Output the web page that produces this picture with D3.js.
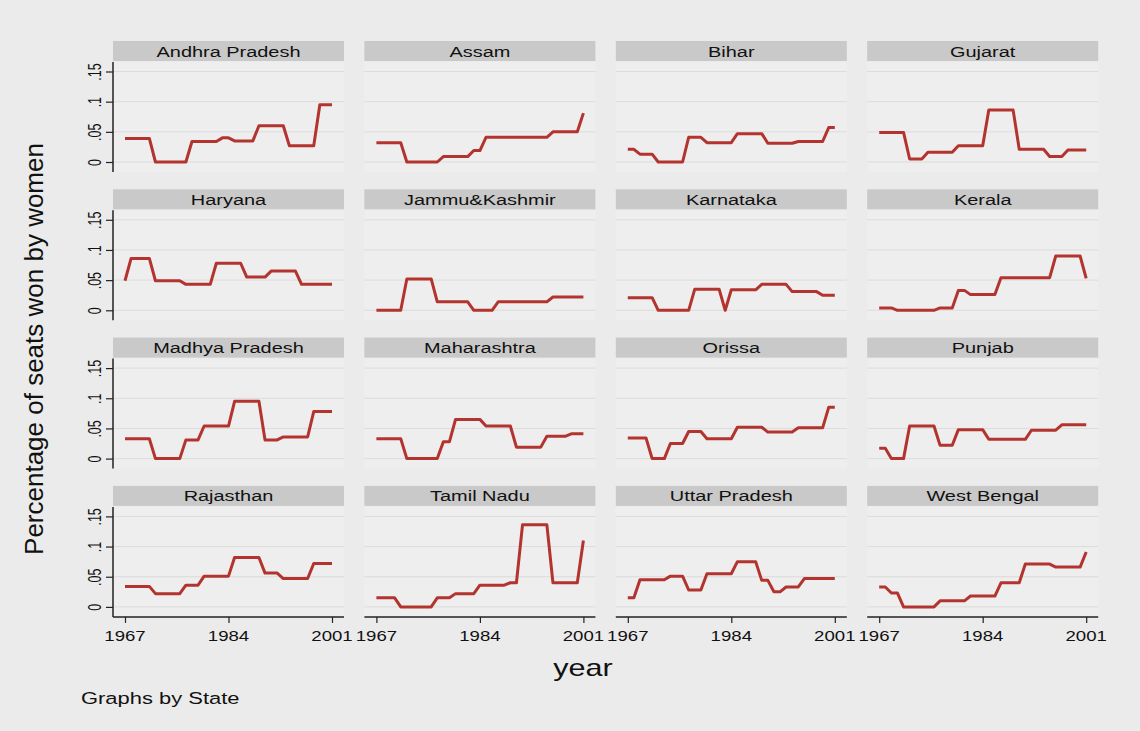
<!DOCTYPE html>
<html>
<head>
<meta charset="utf-8">
<script src="https://cdn.jsdelivr.net/npm/d3@7"></script>
<style>
  body { margin: 0; background: #ebebeb; }
  text { font-family: "Liberation Sans", Arial, sans-serif; fill: #111; }
</style>
</head>
<body>
<svg id="chart" width="1140" height="731"></svg>
<script>
const years = [1967, 1968, 1969, 1970, 1971, 1972, 1973, 1974, 1975, 1976,
               1977, 1978, 1979, 1980, 1981, 1982, 1983, 1984, 1985, 1986,
               1987, 1988, 1989, 1990, 1991, 1992, 1993, 1994, 1995, 1996,
               1997, 1998, 1999, 2000, 2001];

const states = ["Andhra Pradesh", "Assam", "Bihar", "Gujarat",
                "Haryana", "Jammu&Kashmir", "Karnataka", "Kerala",
                "Madhya Pradesh", "Maharashtra", "Orissa", "Punjab",
                "Rajasthan", "Tamil Nadu", "Uttar Pradesh", "West Bengal"];

// share of seats won by women, one value per year 1967-2001
const andhra      = [.039,.039,.039,.039,.039, 0,0,0,0,0,0, .034,.034,.034,.034,.034, .040,.040, .035,.035,.035,.035, .060,.060,.060,.060,.060, .027,.027,.027,.027,.027, .095,.095,.095];
const assam       = [.032,.032,.032,.032,.032, 0,0,0,0,0,0, .009,.009,.009,.009,.009, .019,.019, .041,.041,.041,.041,.041,.041,.041,.041,.041,.041,.041, .050,.050,.050,.050,.050, .081];
const bihar       = [.021,.021, .013,.013,.013, 0,0,0,0,0, .041,.041,.041, .032,.032,.032,.032,.032, .047,.047,.047,.047,.047, .031,.031,.031,.031,.031, .034,.034,.034,.034,.034, .057,.057];
const gujarat     = [.049,.049,.049,.049,.049, .005,.005,.005, .016,.016,.016,.016,.016, .027,.027,.027,.027,.027, .086,.086,.086,.086,.086, .021,.021,.021,.021,.021, .009,.009,.009, .020,.020,.020,.020];
const haryana     = [.049, .086,.086,.086,.086, .049,.049,.049,.049,.049, .043,.043,.043,.043,.043, .078,.078,.078,.078,.078, .055,.055,.055,.055, .065,.065,.065,.065,.065, .043,.043,.043,.043,.043,.043];
const jammu       = [0,0,0,0,0, .052,.052,.052,.052,.052, .014,.014,.014,.014,.014,.014, 0,0,0,0, .014,.014,.014,.014,.014,.014,.014,.014,.014, .022,.022,.022,.022,.022,.022];
const karnataka   = [.021,.021,.021,.021,.021, 0,0,0,0,0,0, .035,.035,.035,.035,.035, 0, .034,.034,.034,.034,.034, .043,.043,.043,.043,.043, .031,.031,.031,.031,.031, .025,.025,.025];
const kerala      = [.004,.004,.004, 0,0,0,0,0,0,0, .004,.004,.004, .033,.033, .026,.026,.026,.026,.026, .054,.054,.054,.054,.054,.054,.054,.054,.054, .090,.090,.090,.090,.090, .053];
const madhya      = [.033,.033,.033,.033,.033, 0,0,0,0,0, .031,.031,.031, .054,.054,.054,.054,.054, .095,.095,.095,.095,.095, .031,.031,.031, .036,.036,.036,.036,.036, .078,.078,.078,.078];
const maharashtra = [.033,.033,.033,.033,.033, 0,0,0,0,0,0, .028,.028, .065,.065,.065,.065,.065, .054,.054,.054,.054,.054, .019,.019,.019,.019,.019, .037,.037,.037,.037, .041,.041,.041];
const orissa      = [.034,.034,.034,.034, 0,0,0, .025,.025,.025, .045,.045,.045, .033,.033,.033,.033,.033, .052,.052,.052,.052,.052, .044,.044,.044,.044,.044, .051,.051,.051,.051,.051, .085,.085];
const punjab      = [.017,.017, 0,0,0, .054,.054,.054,.054,.054, .022,.022,.022, .048,.048,.048,.048,.048, .032,.032,.032,.032,.032,.032,.032, .047,.047,.047,.047,.047, .056,.056,.056,.056,.056];
const rajasthan   = [.034,.034,.034,.034,.034, .022,.022,.022,.022,.022, .036,.036,.036, .051,.051,.051,.051,.051, .082,.082,.082,.082,.082, .056,.056,.056, .047,.047,.047,.047,.047, .072,.072,.072,.072];
const tamilnadu   = [.015,.015,.015,.015, 0,0,0,0,0,0, .015,.015,.015, .022,.022,.022,.022, .036,.036,.036,.036,.036, .040,.040, .136,.136,.136,.136,.136, .040,.040,.040,.040,.040, .110];
const uttar       = [.015,.015, .045,.045,.045,.045,.045, .051,.051,.051, .028,.028,.028, .055,.055,.055,.055,.055, .075,.075,.075,.075, .044,.044, .025,.025, .033,.033,.033, .047,.047,.047,.047,.047,.047];
const westbengal  = [.033,.033, .023,.023, 0,0,0,0,0,0, .010,.010,.010,.010,.010, .018,.018,.018,.018,.018, .040,.040,.040,.040, .071,.071,.071,.071,.071, .066,.066,.066,.066,.066, .091];

const seriesList = [andhra, assam, bihar, gujarat, haryana, jammu, karnataka, kerala,
                    madhya, maharashtra, orissa, punjab, rajasthan, tamilnadu, uttar, westbengal];

const yTicks = [0, 0.05, 0.1, 0.15];
const yTickLabels = ["0", ".05", ".1", ".15"];
const xTicks = [1967, 1984, 2001];

const W = 1140, H = 731;
const panelW = 231, headH = 20, plotTop = 21, plotH = 110;
const colLeft = c => 113 + 251.4 * c;
const rowTop = r => 41 + 148.3 * r;
const sx = 1.33; // glyphs in the picture are wide

const svg = d3.select("#chart");
svg.append("rect").attr("width", W).attr("height", H).attr("fill", "#ebebeb");

// wide horizontal text
function wideText(x, y, str, size, anchor) {
  return svg.append("text")
    .attr("transform", `translate(${x},${y}) scale(${sx},1)`)
    .attr("text-anchor", anchor)
    .attr("font-size", size)
    .text(str);
}

states.forEach((name, i) => {
  const c = i % 4, r = Math.floor(i / 4);
  const left = colLeft(c), top = rowTop(r);
  const pTop = top + plotTop, pBot = pTop + plotH;

  const x = d3.scaleLinear().domain([1967, 2001]).range([left + 12, left + panelW - 12]);
  const y = d3.scaleLinear().domain([0, 0.15]).range([top + 121, top + 121 - 90.5]);

  // strip label
  svg.append("rect")
    .attr("x", left).attr("y", top)
    .attr("width", panelW).attr("height", headH)
    .attr("fill", "#c9c9c9");
  wideText(left + panelW / 2, top + 15.5, name, 15, "middle");

  // plot region
  svg.append("rect")
    .attr("x", left).attr("y", pTop)
    .attr("width", panelW).attr("height", plotH)
    .attr("fill", "#eeeeee");

  svg.append("g").selectAll("line")
    .data(yTicks)
    .join("line")
    .attr("x1", left).attr("x2", left + panelW)
    .attr("y1", d => y(d)).attr("y2", d => y(d))
    .attr("stroke", "#dcdcdc")
    .attr("stroke-width", 1);

  const line = d3.line()
    .x((d, j) => x(years[j]))
    .y(d => y(d));

  svg.append("path")
    .datum(seriesList[i])
    .attr("d", line)
    .attr("fill", "none")
    .attr("stroke", "#b3342f")
    .attr("stroke-width", 3)
    .attr("stroke-linejoin", "round");

  // y axis on the left column
  if (c === 0) {
    const ax = svg.append("g")
      .attr("transform", `translate(${left},0)`)
      .call(d3.axisLeft(y).tickValues(yTicks).tickFormat((d, k) => yTickLabels[k]).tickSize(7).tickSizeOuter(0));
    ax.select(".domain").remove();
    ax.selectAll(".tick line").attr("stroke", "#222").attr("stroke-width", 1.2);
    ax.selectAll(".tick text")
      .attr("x", 0).attr("y", 0).attr("dy", 0)
      .attr("transform", "rotate(-90) translate(0,-12) scale(1,1.4)")
      .attr("text-anchor", "middle")
      .attr("font-size", 12.5)
      .attr("font-family", null)
      .attr("fill", "#111");
    ax.append("line")
      .attr("y1", pTop).attr("y2", pBot)
      .attr("stroke", "#222").attr("stroke-width", 1.5);
  }

  // x axis on the bottom row
  if (r === 3) {
    const ax = svg.append("g")
      .attr("transform", `translate(0,${pBot})`)
      .call(d3.axisBottom(x).tickValues(xTicks).tickFormat(d3.format("d")).tickSize(6).tickSizeOuter(0));
    ax.select(".domain").remove();
    ax.selectAll(".tick line").attr("stroke", "#222").attr("stroke-width", 1.2);
    ax.selectAll(".tick text").remove();
    ax.append("line")
      .attr("x1", left).attr("x2", left + panelW)
      .attr("stroke", "#222").attr("stroke-width", 1.5);
    xTicks.forEach(t => wideText(x(t), pBot + 24, String(t), 14, "middle"));
  }
});

// axis titles and note
svg.append("text")
  .attr("transform", "translate(43,349) rotate(-90)")
  .attr("text-anchor", "middle")
  .attr("font-size", 26)
  .text("Percentage of seats won by women");

wideText(583, 676, "year", 23, "middle");
wideText(81, 704, "Graphs by State", 16.5, "start");
</script>
</body>
</html>
